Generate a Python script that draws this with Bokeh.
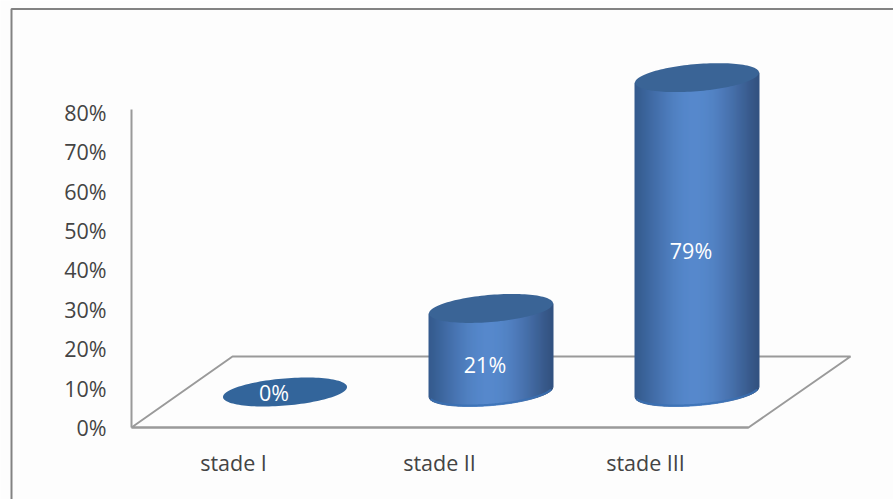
from bokeh.embed import file_html
from bokeh.models import FixedTicker, LinearAxis
from bokeh.plotting import figure
from bokeh.resources import INLINE
from bokeh.core.properties import value
import numpy as np

categories = ["stade I", "stade II", "stade III"]
percents = [0, 21, 79]
tick_values = [0, 10, 20, 30, 40, 50, 60, 70, 80]

W, H = 893, 499
X0, DX = 233.0, 206.0   # pixel of the first category and spacing between categories
Y0, DY = 427.0, 3.94    # pixel of 0 % and pixels per percent


def data_x(px):
    return (px - X0) / DX


def data_y(py):
    return (Y0 - py) / DY


p = figure(width=W, height=H, output_backend="svg", toolbar_location=None,
           x_range=(data_x(0), data_x(W)), y_range=(data_y(H), data_y(0)),
           min_border=0, background_fill_color="#fdfdfd", border_fill_color="#fdfdfd",
           x_axis_type=None, y_axis_type=None)
p.grid.visible = False
p.outline_line_color = None

AXIS = "#9a9a9a"
TEXT = "#444444"
FONT = "Open Sans"
LABEL_SIZE = "21.5px"

# Surrounding chart frame: left and top edges only, the rest runs off the page
p.line([data_x(11), data_x(11), data_x(W)],
       [data_y(H), data_y(8.5), data_y(8.5)], line_color="#828282", line_width=2)

# Floor of the 3D box
floor_x = [data_x(v) for v in (131, 748, 850, 232, 131)]
floor_y = [data_y(v) for v in (427, 427, 356, 356, 427)]
p.line(floor_x, floor_y, line_color=AXIS, line_width=2)

yaxis = LinearAxis(fixed_location=data_x(131), bounds=(0, data_y(109)),
                   ticker=FixedTicker(ticks=tick_values),
                   major_label_overrides={v: f"{v}%" for v in tick_values})
xaxis = LinearAxis(fixed_location=0, bounds=(data_x(131), data_x(748)),
                   ticker=FixedTicker(ticks=[0, 1, 2]),
                   major_label_overrides=dict(enumerate(categories)))
for ax in (xaxis, yaxis):
    ax.axis_line_color = AXIS
    ax.axis_line_width = 2
    ax.major_tick_line_color = None
    ax.minor_tick_line_color = None
    ax.major_label_text_color = TEXT
    ax.major_label_text_font = FONT
    ax.major_label_text_font_size = LABEL_SIZE
yaxis.major_label_standoff = 19
xaxis.major_label_standoff = 14
p.add_layout(yaxis, "left")
p.add_layout(xaxis, "below")

# Cylinders: shaded vertical strips with a tilted elliptical cap
HALF_W, HALF_H, TILT = 62.0, 13.6, 5.0
CENTER_SHIFT, BASE_PY = 51.5, 391.5
HEIGHT_SCALE = 1.01     # the box's depth stretches the columns slightly
DARK_L = np.array([0x34, 0x5a, 0x8d])
LIGHT = np.array([0x56, 0x88, 0xcc])
DARK_R = np.array([0x33, 0x52, 0x80])
CAP = "#3a6496"
FLAT = "#33659b"
RIM = "#3a70b4"


def shade(u):
    # u runs from -1 to 1 across the cylinder, brightest near the centre
    c = -0.02
    if u < c:
        t = (u + 1) / (c + 1)
        return DARK_L + (LIGHT - DARK_L) * np.sin(np.pi * t / 2) ** 1.2
    t = (1 - u) / (1 - c)
    return DARK_R + (LIGHT - DARK_R) * np.sin(np.pi * t / 2) ** 1.2


def to_hex(rgb):
    return "#%02x%02x%02x" % tuple(int(round(v)) for v in rgb)


base = data_y(BASE_PY)
label_x, label_y, label_text = [], [], []
for i, (cat, val) in enumerate(zip(categories, percents)):
    cx_px = X0 + i * DX + CENTER_SHIFT
    top = base + val * HEIGHT_SCALE
    if val > 0:
        edges = np.linspace(-1, 1, 63)
        xs, ys, cols = [], [], []
        for a, b in zip(edges[:-1], edges[1:]):
            u = np.linspace(a, b, 4)
            # downward pixel offset of the front rim of the ellipse
            rim = HALF_H * np.sqrt(np.clip(1 - u ** 2, 0, 1)) - TILT * u
            px = cx_px + HALF_W * u
            tops = np.full_like(u, top) + TILT * u / DY
            bottoms = base - rim / DY
            xs.append(list(data_x(px)) + list(data_x(px[::-1])))
            ys.append(list(tops) + list(bottoms[::-1]))
            cols.append(to_hex(shade((a + b) / 2)))
        p.patches(xs, ys, fill_color=cols, line_color=cols, line_width=1)
        # lighter reflection along the bottom edge
        u = np.linspace(-0.97, 0.97, 80)
        rim = HALF_H * np.sqrt(1 - u ** 2) - TILT * u
        p.line(data_x(cx_px + HALF_W * u), base - (rim - 1) / DY,
               line_color=RIM, line_width=2, line_alpha=0.8)
    t = np.linspace(0, 2 * np.pi, 121)
    ex = cx_px + HALF_W * np.cos(t)
    ey = top + (HALF_H * np.sin(t) + TILT * np.cos(t)) / DY
    p.patch(data_x(ex), ey, fill_color=FLAT if val == 0 else CAP, line_color=None)
    label_x.append(data_x(cx_px - 11 if val == 0 else cx_px - 6))
    label_y.append(base + val / 2 + (-0.25 if val == 0 else -3.5))
    label_text.append(f"{val}%")

p.text(label_x, label_y, text=label_text, text_color="white",
       text_font=value(FONT), text_font_size=LABEL_SIZE,
       text_align="center", text_baseline="middle")

open("out.html", "w").write(file_html(p, INLINE))
